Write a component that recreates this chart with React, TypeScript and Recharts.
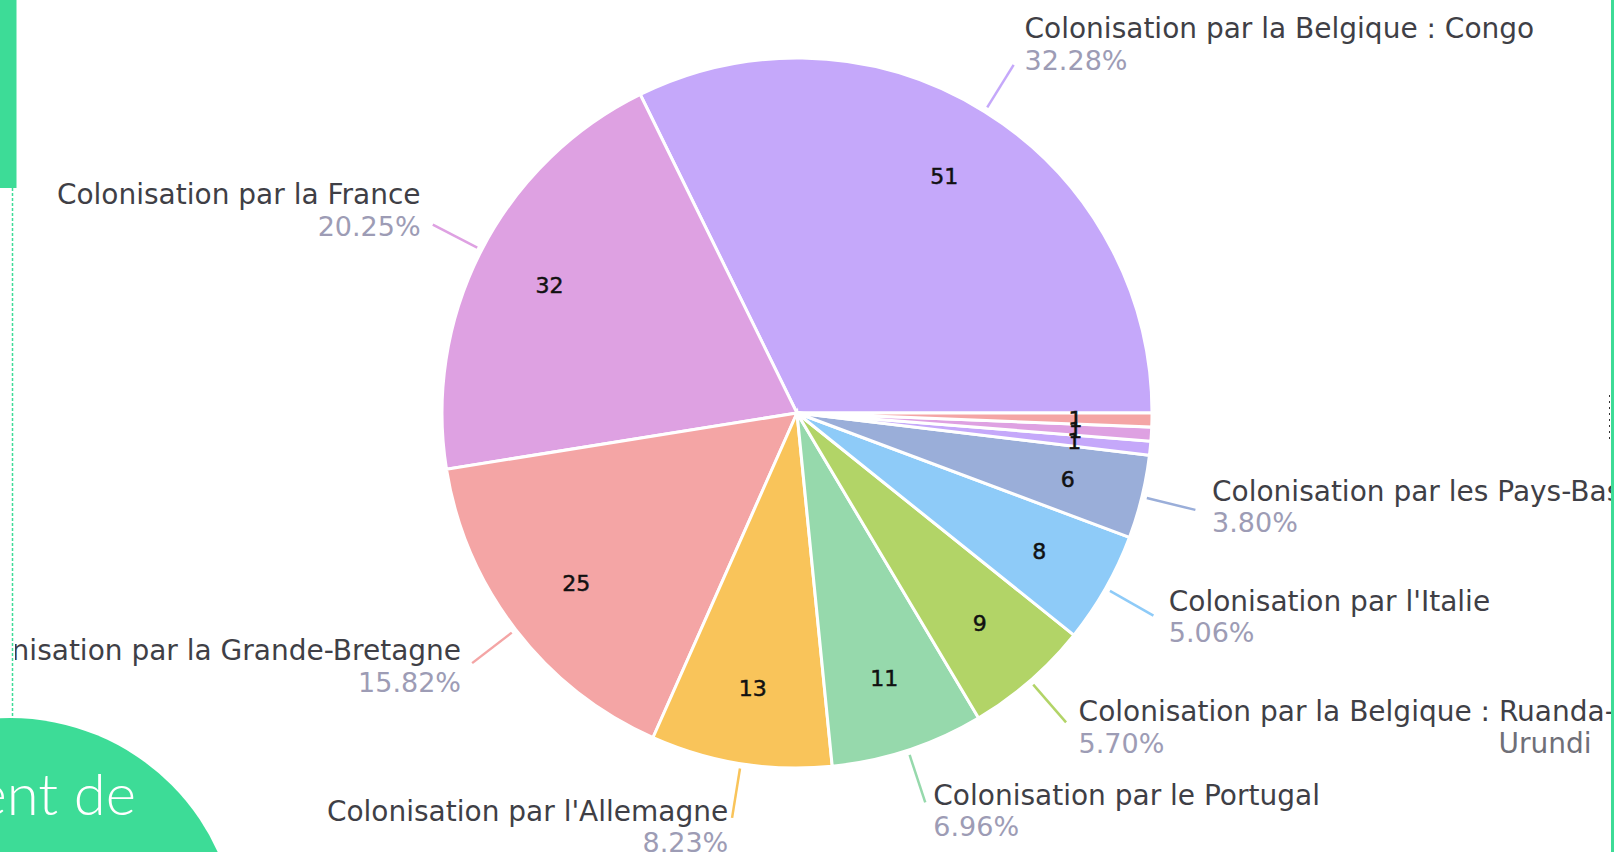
import { PieChart, Pie, Cell } from "recharts";

const names = [
  "Colonisation par la Belgique : Congo",
  "Colonisation par la France",
  "Colonisation par la Grande-Bretagne",
  "Colonisation par l'Allemagne",
  "Colonisation par le Portugal",
  "Colonisation par la Belgique : Ruanda-Urundi",
  "Colonisation par l'Italie",
  "Colonisation par les Pays-Bas",
  "Colonisation par l'Espagne",
  "Colonisation par le Danemark",
  "Autre",
];

const counts = [51, 32, 25, 13, 11, 9, 8, 6, 1, 1, 1];

const PALETTE = [
  "#C5A8FA",
  "#DEA1E2",
  "#F4A5A5",
  "#F9C45A",
  "#96D9AC",
  "#B2D467",
  "#8ECBF8",
  "#9AAED9",
];

const GREEN = "#3DDC97";
const FONT = "'DejaVu Sans', sans-serif";

const data = names.map((n, i) => ({ name: n, value: counts[i] }));

const RADIAN = Math.PI / 180;

const renderLabel = (props: any) => {
  const { cx, cy, midAngle, outerRadius, percent, value, name, index, fill } =
    props;
  const cos = Math.cos(-midAngle * RADIAN);
  const sin = Math.sin(-midAngle * RADIAN); // screen space, + is down

  // value inside the slice
  const ir = outerRadius * 0.785;
  const ix = cx + ir * cos;
  const iy = cy + ir * sin;
  const inner = (
    <text
      x={ix}
      y={iy + 8}
      textAnchor="middle"
      fill="#111"
      stroke="#111"
      strokeWidth={0.5}
      fontSize={22}
      fontFamily={FONT}
    >
      {value}
    </text>
  );
  if (percent < 0.01) return <g key={`l-${index}`}>{inner}</g>;

  // outer label with its line
  const sx = cx + (outerRadius + 5) * cos;
  const sy = cy + (outerRadius + 5) * sin;
  const ex = cx + (outerRadius + 55) * cos;
  const ey = cy + (outerRadius + 55) * sin;
  const right = cos >= 0;
  const gap = right ? 4 + 13 * Math.abs(cos) : 2 + 11.5 * Math.abs(cos);
  const tx = ex + (right ? gap : -gap);
  const pc = ey + 9 + 16 * sin;
  const nc = pc - 32;
  const anchor = right ? "start" : "end";

  // the Ruanda-Urundi label wraps after the hyphen
  const wrap = name.endsWith("Ruanda-Urundi");
  const first = wrap ? name.replace("Urundi", "") : name;

  return (
    <g key={`l-${index}`}>
      {inner}
      <line
        x1={sx}
        y1={sy}
        x2={ex}
        y2={ey}
        stroke={fill}
        strokeWidth={2.5}
      />
      <text
        x={tx}
        y={nc + 10}
        textAnchor={anchor}
        fill="#3f3f46"
        fontSize={28}
        fontFamily={FONT}
      >
        {first}
      </text>
      {wrap && (
        <text
          x={tx + 420}
          y={pc + 10}
          textAnchor="start"
          fill="#6f6f78"
          fontSize={28}
          fontFamily={FONT}
        >
          Urundi
        </text>
      )}
      <text
        x={tx}
        y={pc + 9.8}
        textAnchor={anchor}
        fill="#9d9cb5"
        fontSize={27}
        fontFamily={FONT}
      >
        {(percent * 100).toFixed(2)}%
      </text>
    </g>
  );
};

export default function App() {
  return (
    <div
      style={{
        position: "absolute",
        left: 0,
        top: 0,
        width: 1614,
        height: 852,
        overflow: "hidden",
        background: "#fff",
      }}
    >
      {/* chart area, clipped left by the page column */}
      <div
        style={{
          position: "absolute",
          left: 15,
          top: 0,
          width: 1596,
          height: 852,
          overflow: "hidden",
        }}
      >
        <PieChart width={1596} height={852} margin={{ top: 0, right: 0, bottom: 0, left: 0 }}>
          <Pie
            data={data}
            dataKey="value"
            nameKey="name"
            cx={782}
            cy={413}
            outerRadius={355}
            startAngle={0}
            endAngle={360}
            stroke="#fff"
            strokeWidth={3}
            label={renderLabel}
            labelLine={false}
            isAnimationActive={false}
          >
            {data.map((d, i) => (
              <Cell key={d.name} fill={PALETTE[i % PALETTE.length]} />
            ))}
          </Pie>
        </PieChart>
      </div>

      {/* page decorations around the chart */}
      <svg
        width={1614}
        height={852}
        style={{ position: "absolute", left: 0, top: 0, pointerEvents: "none" }}
      >
        <rect x={0} y={0} width={16.5} height={188} fill={GREEN} />
        <line
          x1={12.5}
          y1={188}
          x2={12.5}
          y2={722}
          stroke={GREEN}
          strokeWidth={1.5}
          strokeDasharray="3 2"
        />
        <circle cx={10} cy={946} r={228} fill={GREEN} />
        <text
          x={136}
          y={815}
          textAnchor="end"
          fill="#fff"
          fontSize={58}
          fontWeight={300}
          fontFamily="Lato, sans-serif"
        >
          ent de
        </text>
        <text
          x={58}
          y={895}
          fill="#fff"
          fontSize={58}
          fontWeight={300}
          fontFamily="Lato, sans-serif"
        >
          é
        </text>
        <rect x={1611} y={0} width={3} height={852} fill={GREEN} />
        <line
          x1={1609.5}
          y1={395}
          x2={1609.5}
          y2={440}
          stroke="#333"
          strokeWidth={1}
          strokeDasharray="2 4"
        />
      </svg>
    </div>
  );
}
